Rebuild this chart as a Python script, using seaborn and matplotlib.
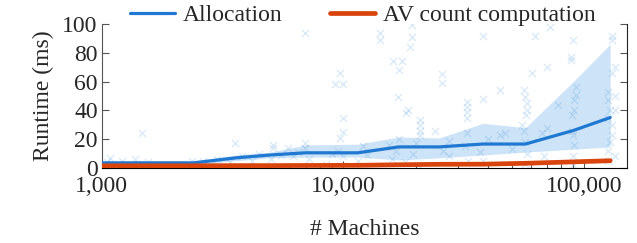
import numpy as np
import pandas as pd
import matplotlib
matplotlib.use("Agg")
import matplotlib.pyplot as plt
import matplotlib.ticker as mticker
import seaborn as sns

# summary lines (machines -> runtime in ms)
machines = [1000, 2400, 3600, 5000, 7000, 11500, 17000, 25000, 38000, 57000, 90000, 128000]
alloc_mean = [3.5, 3.5, 7, 9, 10.5, 10.5, 14.6, 14.6, 16.6, 16.6, 26, 35]
alloc_low = [2.3, 2.3, 5, 7, 7.5, 7.6, 5.5, 7, 9, 11, 13, 14.6]
alloc_high = [5, 5, 9, 11, 16, 16.5, 21.5, 20.8, 31, 28, 60, 86]
av_mean = [1.5, 1.5, 1.6, 1.6, 1.7, 1.8, 2.2, 2.5, 2.6, 3.2, 4.2, 5]

# raw allocation measurements
pts_machines = [1020, 1050, 1080, 1100, 1150, 1210, 1250, 1370, 1400, 1470, 1470, 1550, 1600,
                2360, 2500, 2620, 2800, 3000, 3570, 3400, 3800, 4200, 4500,
                5130, 5130, 5000, 5500, 5910, 6200, 6950, 6950, 6950, 6500, 7200,
                9730, 9270, 10000, 10000, 10000, 9730, 9500, 10000, 8500, 9000,
                12100, 11500, 12500,
                14200, 14200, 16100, 17600, 17000, 16900, 17000, 16500, 16000, 15500,
                19300, 19300, 19000, 18500, 18200, 20900, 20900, 20900, 20900, 20000, 19500, 18000, 20500,
                24100, 25700, 25700, 27500, 27500, 26000,
                32700, 32700, 32700, 32700, 32700, 32000, 33000,
                38100, 38100, 37000, 38000, 40000,
                44800, 44800, 47000, 50000,
                56000, 57000, 58000, 58000, 57500, 56000, 57000, 58000, 57000, 55000,
                60800, 62600, 70100, 72300, 70100, 67000, 68000,
                78000, 90000, 88000, 88000, 92000, 92000, 91000, 91000, 89000, 89000, 90000, 91000, 90000, 90000,
                125000, 125000, 128000, 125000, 130000, 130000, 125000, 130000, 130000, 134000, 130000,
                134000, 134000, 128000, 125000, 134000]
pts_runtime = [2, 4, 7, 3, 2, 5, 2, 6, 3, 24, 1, 4, 2,
               5, 3, 5, 2, 6, 17, 4, 8, 5, 10,
               16, 14, 6, 9, 14, 8, 94, 17, 14, 11, 6,
               66, 58, 58, 35, 25, 21, 12, 8, 3, 10,
               15, 5, 9,
               94, 89, 74, 74, 68, 49, 20, 12, 6, 16,
               99, 91, 84, 40, 38, 33, 30, 26, 23, 17, 10, 4, 2,
               26, 65, 59, 19, 8, 12,
               46, 42, 39, 35, 24, 15, 5,
               92, 48, 11, 5, 20,
               54, 23, 24, 13,
               54, 49, 45, 40, 37, 26, 18, 10, 3, 30,
               66, 92, 70, 98, 28, 24, 8,
               44, 89, 75, 77, 56, 51, 47, 40, 37, 26, 23, 16, 8, 2,
               53, 47, 40, 35, 30, 23, 12, 92, 89, 70, 66,
               50, 40, 18, 5, 8]

blue = "#1f78d1"
red = "#d9430c"

sns.set_style("ticks")
plt.rcParams["font.family"] = ["Liberation Serif", "DejaVu Serif"]

fig = plt.figure(figsize=(6.37, 2.43), dpi=100)
ax = fig.add_axes([0.160, 0.309, 0.824, 0.592])

pts = pd.DataFrame({"machines": pts_machines, "runtime": pts_runtime})
sns.scatterplot(data=pts, x="machines", y="runtime", marker="x", color="#4a98e0",
                alpha=0.22, s=26, linewidth=0.9, ax=ax, legend=False, zorder=2)

ax.fill_between(machines, alloc_low, alloc_high, color="#9cc8f0", alpha=0.5,
                linewidth=0, zorder=1)

summary = pd.DataFrame({"machines": machines, "Allocation": alloc_mean,
                        "AV count computation": av_mean})
sns.lineplot(data=summary, x="machines", y="Allocation", color=blue, lw=2.3,
             ax=ax, label="Allocation", zorder=4)
sns.lineplot(data=summary, x="machines", y="AV count computation", color=red, lw=3.4,
             ax=ax, label="AV count computation", zorder=5)

ax.set_xscale("log")
ax.set_xlim(1000, 150000)
ax.set_ylim(0, 100)
ax.set_yticks([0, 20, 40, 60, 80, 100])
ax.xaxis.set_major_formatter(mticker.FuncFormatter(lambda v, p: f"{int(v):,}"))
ax.xaxis.set_minor_formatter(mticker.NullFormatter())

ax.tick_params(axis="both", which="both", direction="in", labelsize=17,
               color="#555555", width=0.8)
ax.tick_params(axis="x", which="major", length=5, pad=6)
ax.tick_params(axis="x", which="minor", length=3)
ax.tick_params(axis="y", which="major", length=5, right=True, pad=3)

ax.spines["top"].set_visible(False)
for s in ["left", "bottom", "right"]:
    ax.spines[s].set_linewidth(0.8)
ax.spines["left"].set_color("#555555")
ax.spines["bottom"].set_color("black")
ax.spines["right"].set_color("#222222")

ax.set_xlabel("# Machines", fontsize=17, labelpad=16)
ax.set_ylabel("Runtime (ms)", fontsize=17, labelpad=6)

ax.legend(loc="center", bbox_to_anchor=(0.497, 1.062), ncol=2, frameon=False,
          fontsize=17, handlelength=1.9, handletextpad=0.35, columnspacing=2.0,
          borderpad=0, borderaxespad=0)

fig.savefig("out.png", dpi=100)
